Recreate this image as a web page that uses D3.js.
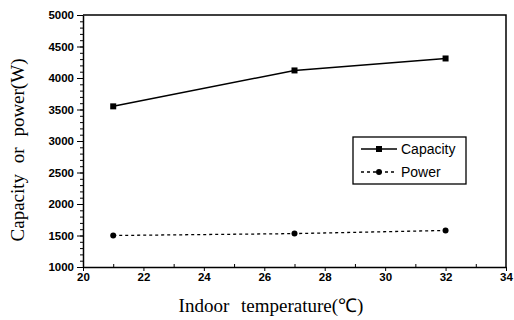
<!DOCTYPE html>
<html>
<head>
<meta charset="utf-8">
<script src="https://cdnjs.cloudflare.com/ajax/libs/d3/7.8.5/d3.min.js"></script>
<style>
  body { margin: 0; background: #fff; }
  .title { font-family: "Liberation Serif", "Times New Roman", serif; font-size: 19px; fill: #000; }
  .legend-text { font-family: Arial, "Liberation Sans", sans-serif; font-size: 14px; fill: #000; }
</style>
</head>
<body>
<div id="chart"></div>
<script>
const temps = [21, 27, 32];
const capacity = [3550, 4120, 4310];
const power = [1500, 1530, 1580];
const xTicks = [20, 22, 24, 26, 28, 30, 32, 34];
const yTicks = [1000, 1500, 2000, 2500, 3000, 3500, 4000, 4500, 5000];

function styleTicks(sel) {
  sel.selectAll(".tick text")
    .style("font-family", "Arial, 'Liberation Sans', sans-serif")
    .style("font-size", "11.5px")
    .style("font-weight", "bold")
    .style("fill", "#000");
}

function renderChart(containerId) {
  const width = 514, height = 320;
  const margin = { top: 15, right: 8, bottom: 53, left: 83 };
  const innerWidth = width - margin.left - margin.right;
  const innerHeight = height - margin.top - margin.bottom;

  const svg = d3.select(`#${containerId}`).append("svg")
    .attr("width", width)
    .attr("height", height);

  const g = svg.append("g")
    .attr("transform", `translate(${margin.left},${margin.top})`);

  const x = d3.scaleLinear().domain([20, 34]).range([0, innerWidth]);
  const y = d3.scaleLinear().domain([1000, 5000]).range([innerHeight, 0]);

  // frame top + right
  g.append("path")
    .attr("d", `M0,0H${innerWidth}V${innerHeight}`)
    .attr("fill", "none")
    .attr("stroke", "#000")
    .attr("stroke-width", 1.5);

  // minor ticks
  g.append("g")
    .call(d3.axisLeft(y).tickValues(d3.range(1000, 5001, 100)).tickSize(3).tickFormat(""))
    .call(a => a.select(".domain").remove());
  g.append("g")
    .attr("transform", `translate(0,${innerHeight})`)
    .call(d3.axisTop(x).tickValues(d3.range(21, 34, 2)).tickSize(3).tickFormat(""))
    .call(a => a.select(".domain").remove());

  // major axes
  const yAxis = g.append("g")
    .call(d3.axisLeft(y).tickValues(yTicks).tickSize(6).tickPadding(3)
      .tickSizeOuter(0).tickFormat(d3.format("d")));
  yAxis.select(".domain").attr("stroke-width", 1.5);
  styleTicks(yAxis);

  const xAxis = g.append("g")
    .attr("transform", `translate(0,${innerHeight})`)
    .call(d3.axisBottom(x).tickValues(xTicks).tickSize(4).tickPadding(2)
      .tickSizeOuter(0).tickFormat(d3.format("d")));
  xAxis.select(".domain").attr("stroke-width", 1.5);
  styleTicks(xAxis);

  const line = d3.line().x(d => x(d[0])).y(d => y(d[1]));
  const capData = temps.map((t, i) => [t, capacity[i]]);
  const powData = temps.map((t, i) => [t, power[i]]);

  g.append("path")
    .datum(capData)
    .attr("fill", "none")
    .attr("stroke", "#000")
    .attr("stroke-width", 1.5)
    .attr("d", line);

  g.selectAll(".cap-pt")
    .data(capData)
    .join("rect")
    .attr("x", d => x(d[0]) - 3)
    .attr("y", d => y(d[1]) - 3)
    .attr("width", 6)
    .attr("height", 6)
    .attr("fill", "#000");

  g.append("path")
    .datum(powData)
    .attr("fill", "none")
    .attr("stroke", "#000")
    .attr("stroke-width", 1.3)
    .attr("stroke-dasharray", "3,3")
    .attr("d", line);

  g.selectAll(".pow-pt")
    .data(powData)
    .join("circle")
    .attr("cx", d => x(d[0]))
    .attr("cy", d => y(d[1]))
    .attr("r", 3)
    .attr("fill", "#000");

  // legend
  const legend = svg.append("g").attr("transform", "translate(353,137)");
  legend.append("rect")
    .attr("width", 113)
    .attr("height", 47)
    .attr("fill", "#fff")
    .attr("stroke", "#000")
    .attr("stroke-width", 1.3);

  const items = [
    { name: "Capacity", dash: null, shape: "square" },
    { name: "Power", dash: "3,3", shape: "circle" }
  ];
  items.forEach((it, i) => {
    const row = legend.append("g").attr("transform", `translate(0,${12 + i * 23})`);
    row.append("line")
      .attr("x1", 8).attr("x2", 44)
      .attr("stroke", "#000")
      .attr("stroke-width", 1.5)
      .attr("stroke-dasharray", it.dash);
    if (it.shape === "square") {
      row.append("rect").attr("x", 23).attr("y", -3).attr("width", 6).attr("height", 6);
    } else {
      row.append("circle").attr("cx", 26).attr("r", 3);
    }
    row.append("text")
      .attr("class", "legend-text")
      .attr("x", 48)
      .attr("dy", "0.35em")
      .text(it.name);
  });

  // titles
  svg.append("text")
    .attr("class", "title")
    .attr("transform", "rotate(-90)")
    .attr("x", -150)
    .attr("y", 24)
    .attr("text-anchor", "middle")
    .attr("word-spacing", "6px")
    .text("Capacity or power(W)");

  svg.append("text")
    .attr("class", "title")
    .attr("x", 271)
    .attr("y", 312)
    .attr("text-anchor", "middle")
    .attr("word-spacing", "7px")
    .text("Indoor temperature(℃)");
}

renderChart("chart");
</script>
</body>
</html>
